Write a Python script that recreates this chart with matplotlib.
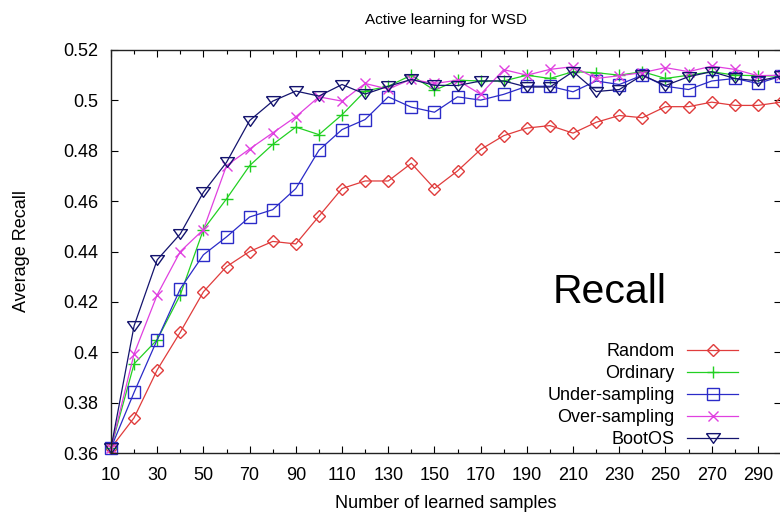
import matplotlib
matplotlib.use('Agg')
import matplotlib.pyplot as plt
import numpy as np
from matplotlib.ticker import MultipleLocator, FuncFormatter

samples = list(range(10, 301, 10))

random_recall = [0.362, 0.374, 0.393, 0.408, 0.424, 0.434, 0.440, 0.444, 0.443, 0.454,
                 0.465, 0.468, 0.468, 0.475, 0.465, 0.472, 0.4805, 0.486, 0.489, 0.490,
                 0.487, 0.4913, 0.494, 0.4931, 0.4975, 0.4975, 0.4993, 0.498, 0.498, 0.4993]
ordinary_recall = [0.362, 0.3954, 0.405, 0.4228, 0.4487, 0.4609, 0.4741, 0.4825, 0.4894, 0.4864,
                   0.4943, 0.5037, 0.5056, 0.510, 0.504, 0.508, 0.5077, 0.5077, 0.510, 0.5087,
                   0.5114, 0.511, 0.510, 0.5114, 0.5087, 0.510, 0.5114, 0.510, 0.5098, 0.5096]
under_recall = [0.362, 0.3841, 0.405, 0.4252, 0.4387, 0.4458, 0.4537, 0.4566, 0.465, 0.4802,
                0.4884, 0.4924, 0.5014, 0.4973, 0.4953, 0.5014, 0.5001, 0.5024, 0.5056, 0.5056,
                0.5034, 0.5077, 0.5063, 0.510, 0.5056, 0.5043, 0.5077, 0.5087, 0.5067, 0.5096]
over_recall = [0.362, 0.3994, 0.4228, 0.440, 0.4487, 0.4741, 0.4807, 0.4871, 0.4935, 0.5014,
               0.4997, 0.5067, 0.5045, 0.5084, 0.5067, 0.508, 0.5024, 0.5122, 0.510, 0.5123,
               0.5134, 0.5087, 0.5098, 0.511, 0.513, 0.5114, 0.5136, 0.5123, 0.5098, 0.510]
bootos_recall = [0.362, 0.4105, 0.4367, 0.447, 0.4635, 0.4754, 0.492, 0.4997, 0.5037, 0.5017,
                 0.5063, 0.5025, 0.5056, 0.5083, 0.506, 0.5059, 0.5077, 0.5077, 0.5053, 0.5053,
                 0.5114, 0.5035, 0.5043, 0.510, 0.5059, 0.5094, 0.5114, 0.5087, 0.5077, 0.5096]

series_names = ['Random', 'Ordinary', 'Under-sampling', 'Over-sampling', 'BootOS']

plt.rcParams['font.family'] = ['Liberation Sans', 'DejaVu Sans']

fig = plt.figure(figsize=(7.8, 5.16), dpi=100)
ax = fig.add_axes([111 / 780, 1 - 453 / 516, 670 / 780, 403 / 516])

# wide, flat triangle like the original BootOS marker
tri = [(-1, 0.7), (1, 0.7), (0, -0.7), (-1, 0.7)]

styles = [
    dict(color='#e03c3c', marker='D', ms=6.6),
    dict(color='#22d022', marker='+', ms=8),
    dict(color='#2b2bc8', marker='s', ms=8),
    dict(color='#e040e0', marker='x', ms=7),
    dict(color='#14146e', marker=tri, ms=10),
]
all_series = [random_recall, ordinary_recall, under_recall, over_recall, bootos_recall]

for name, vals, st in zip(series_names, all_series, styles):
    ax.plot(samples, vals, color=st['color'], marker=st['marker'], ms=st['ms'],
            mfc='none', mec=st['color'], mew=1.0, lw=0.9, label=name, clip_on=False)

ax.set_xlim(10, 300)
ax.set_ylim(0.36, 0.52)
ax.xaxis.set_major_locator(MultipleLocator(20, offset=10))
ax.xaxis.set_minor_locator(MultipleLocator(10))
ax.yaxis.set_major_locator(MultipleLocator(0.02))
ax.yaxis.set_major_formatter(FuncFormatter(lambda v, p: '%g' % round(v, 2)))
ax.tick_params(which='both', direction='in', top=True, right=True, labelsize=13,
               colors='black')
ax.tick_params(which='major', length=5, width=0.8)
ax.tick_params(which='minor', length=3, width=0.8)
ax.tick_params(axis='x', pad=10)
ax.tick_params(axis='y', pad=9)
for sp in ax.spines.values():
    sp.set_linewidth(1.0)
    sp.set_color('#222222')

ax.set_title('Active learning for WSD', fontsize=11, pad=19)
ax.set_xlabel('Number of learned samples', fontsize=13, labelpad=8)
ax.set_ylabel('Average Recall', fontsize=13, labelpad=24)

fig.text(553 / 780, 1 - 303 / 516, 'Recall', fontsize=29.5, ha='left', va='baseline')

ax.legend(loc='center right', bbox_to_anchor=(738 / 780, 1 - 395.5 / 516),
          bbox_transform=fig.transFigure, frameon=False, markerfirst=False,
          fontsize=13, labelspacing=0.28, handlelength=2.8, handletextpad=0.7,
          borderpad=0, borderaxespad=0)

fig.savefig('out.png', dpi=100)
